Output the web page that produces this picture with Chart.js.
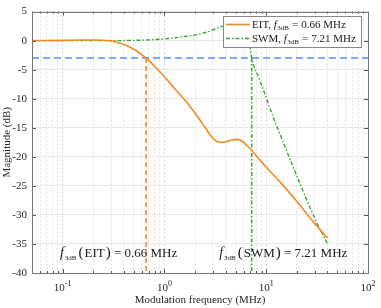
<!DOCTYPE html>
<html>
<head>
<meta charset="utf-8">
<script src="https://cdn.jsdelivr.net/npm/chart.js@4.4.1/dist/chart.umd.min.js"></script>
<style>
  html, body { margin: 0; padding: 0; background: #fff; }
</style>
</head>
<body>
<canvas id="myChart" width="381" height="308"></canvas>
<script>
// EIT response (frequency in MHz, magnitude in dB)
const eitFreq = [0.05, 0.1, 0.15, 0.2, 0.25, 0.28, 0.32, 0.36, 0.4, 0.45, 0.5, 0.55, 0.6, 0.66, 0.8, 1.0, 1.25, 1.62, 2.0, 2.5, 2.9, 3.3, 3.8, 4.4, 5.2, 5.9, 6.5, 7.2, 10, 13.8, 20, 30, 40];
const eitDb   = [0, 0.05, 0.1, 0.1, 0.08, 0.02, -0.15, -0.4, -0.65, -1.05, -1.5, -1.95, -2.45, -3.0, -4.4, -6.2, -8.2, -10.4, -12.5, -14.9, -16.5, -17.4, -17.5, -17.2, -17.0, -17.4, -18.1, -18.9, -21.8, -24.4, -27.7, -31.5, -34.0];

// SWM response
const swmFreq = [0.05, 0.1, 0.3, 0.5, 0.74, 1.0, 1.5, 2.3, 2.9, 3.6, 4.5, 5.2, 5.8, 6.3, 6.8, 7.21, 8.5, 10, 11.8, 13.3, 20, 30, 40];
const swmDb   = [0, 0, 0, 0.05, 0.15, 0.3, 0.65, 1.2, 1.75, 2.4, 2.9, 3.2, 3.2, 2.3, -0.2, -3.0, -6.5, -9.8, -13.3, -15.6, -23.3, -30.6, -35.0];

const cutLevel = -3;
const f3dbEit = 0.66;
const f3dbSwm = 7.21;

const yTicks = [5, 0, -5, -10, -15, -20, -25, -30, -35, -40];
const decades = [0.1, 1, 10, 100];
const decadeExp = ['-1', '0', '1', '2'];

const orange = '#f28a24';
const green = '#36a832';
const blue = '#5b8ff5';
const serif = '"Liberation Serif", "Times New Roman", serif';

function pairs(xs, ys) {
  return xs.map((x, i) => ({ x: x, y: ys[i] }));
}

// draw a run of text pieces with different fonts / vertical offsets
function richText(ctx, x, y, parts) {
  ctx.textBaseline = 'alphabetic';
  ctx.textAlign = 'left';
  parts.forEach(p => {
    ctx.font = p.font;
    ctx.fillText(p.t, x, y + (p.dy || 0));
    x += ctx.measureText(p.t).width + (p.gap || 0);
  });
  return x;
}

const matlabLook = {
  id: 'matlabLook',
  afterDraw(chart) {
    const ctx = chart.ctx;
    const a = chart.chartArea;
    const xs = chart.scales.x, ys = chart.scales.y;
    ctx.save();

    // inward ticks
    ctx.strokeStyle = '#555';
    ctx.lineWidth = 1;
    ctx.beginPath();
    xs.ticks.forEach(t => {
      const px = Math.round(xs.getPixelForValue(t.value)) + 0.5;
      const major = decades.some(d => Math.abs(d - t.value) < 1e-9);
      const len = major ? 4 : 2;
      ctx.moveTo(px, a.bottom); ctx.lineTo(px, a.bottom - len);
      ctx.moveTo(px, a.top); ctx.lineTo(px, a.top + len);
    });
    yTicks.forEach(v => {
      const py = Math.round(ys.getPixelForValue(v)) + 0.5;
      ctx.moveTo(a.left, py); ctx.lineTo(a.left + 4, py);
      ctx.moveTo(a.right, py); ctx.lineTo(a.right - 4, py);
    });
    ctx.stroke();

    // box
    ctx.strokeStyle = '#777';
    ctx.strokeRect(Math.round(a.left) + 0.5, Math.round(a.top) + 0.5,
      Math.round(a.right - a.left), Math.round(a.bottom - a.top));

    // x tick labels 10^n
    ctx.fillStyle = '#262626';
    decades.forEach((d, i) => {
      const px = xs.getPixelForValue(d);
      ctx.font = '11px ' + serif;
      const w1 = ctx.measureText('10').width;
      ctx.font = '8px ' + serif;
      const w2 = ctx.measureText(decadeExp[i]).width;
      let x0 = px - (w1 + w2) / 2;
      if (x0 + w1 + w2 > 381) x0 = 381 - w1 - w2;
      richText(ctx, x0, 291, [
        { t: '10', font: '11px ' + serif },
        { t: decadeExp[i], font: '8px ' + serif, dy: -5 }
      ]);
    });

    // annotations
    ctx.fillStyle = '#1a1a1a';
    const ay = ys.getPixelForValue(-37.5) - 1;
    const fIt = 'italic 14px ' + serif;
    const sub = '7px ' + serif;
    const body = '13px ' + serif;
    const par = '15px ' + serif;
    richText(ctx, xs.getPixelForValue(0.094), ay, [
      { t: 'f', font: fIt, gap: 1 },
      { t: '3dB', font: sub, dy: 3, gap: 2 },
      { t: '(', font: par, gap: 1 }, { t: 'EIT', font: body, gap: 1 }, { t: ')', font: par },
      { t: ' = 0.66 MHz', font: body }
    ]);
    richText(ctx, xs.getPixelForValue(3.45), ay, [
      { t: 'f', font: fIt, gap: 1 },
      { t: '3dB', font: sub, dy: 3, gap: 2 },
      { t: '(', font: par, gap: 1 }, { t: 'SWM', font: body, gap: 1 }, { t: ')', font: par },
      { t: ' = 7.21 MHz', font: body }
    ]);

    // legend box
    const lx = 223, ly = 16, lw = 138, lh = 31;
    ctx.fillStyle = '#fff';
    ctx.fillRect(lx, ly, lw, lh);
    ctx.strokeStyle = '#888';
    ctx.lineWidth = 1;
    ctx.strokeRect(lx + 0.5, ly + 0.5, lw, lh);
    const rows = [
      { name: 'EIT, ', val: '0.66 MHz', color: orange, dash: [], y: ly + 8.5 },
      { name: 'SWM, ', val: '7.21 MHz', color: green, dash: [4, 2, 1.5, 2], y: ly + 22.5 }
    ];
    rows.forEach(r => {
      ctx.strokeStyle = r.color;
      ctx.lineWidth = 1.6;
      ctx.setLineDash(r.dash);
      ctx.beginPath();
      ctx.moveTo(lx + 3, r.y); ctx.lineTo(lx + 27, r.y);
      ctx.stroke();
      ctx.setLineDash([]);
      ctx.fillStyle = '#1a1a1a';
      richText(ctx, lx + 29, r.y + 3.5, [
        { t: r.name, font: '11px ' + serif },
        { t: 'f', font: 'italic 11px ' + serif, gap: 0.5 },
        { t: '3dB', font: '7px ' + serif, dy: 2, gap: 3 },
        { t: '=', font: '11px ' + serif, gap: 3 },
        { t: r.val, font: '11px ' + serif }
      ]);
    });
    ctx.restore();
  }
};

const data = {
  datasets: [
    {
      label: 'EIT',
      data: pairs(eitFreq, eitDb),
      borderColor: orange,
      borderWidth: 1.6,
      pointRadius: 0,
      cubicInterpolationMode: 'monotone'
    },
    {
      label: 'SWM',
      data: pairs(swmFreq, swmDb),
      borderColor: green,
      borderWidth: 1.4,
      borderDash: [4, 2, 1.5, 2],
      pointRadius: 0,
      cubicInterpolationMode: 'monotone'
    },
    {
      label: '-3 dB',
      data: [{ x: 0.05, y: cutLevel }, { x: 100, y: cutLevel }],
      borderColor: blue,
      borderWidth: 1.6,
      borderDash: [7, 4],
      pointRadius: 0
    },
    {
      label: 'EIT cut',
      data: [{ x: f3dbEit, y: cutLevel }, { x: f3dbEit, y: -40 }],
      borderColor: orange,
      borderWidth: 1.6,
      borderDash: [5, 3],
      pointRadius: 0
    },
    {
      label: 'SWM cut',
      data: [{ x: f3dbSwm, y: cutLevel }, { x: f3dbSwm, y: -40 }],
      borderColor: green,
      borderWidth: 1.4,
      borderDash: [4, 2, 1.5, 2],
      pointRadius: 0
    }
  ]
};

const config = {
  type: 'line',
  data: data,
  options: {
    responsive: false,
    animation: false,
    devicePixelRatio: 1,
    layout: { padding: { top: 10, right: 13, left: 0, bottom: 0 } },
    plugins: { legend: { display: false }, tooltip: { enabled: false } },
    scales: {
      x: {
        type: 'logarithmic',
        min: 0.05,
        max: 100,
        afterBuildTicks(scale) {
          const t = [];
          [0.01, 0.1, 1, 10].forEach(d => {
            for (let k = 1; k <= 9; k++) {
              const v = +(k * d).toPrecision(3);
              if (v >= 0.05 && v <= 100) t.push({ value: v });
            }
          });
          t.push({ value: 100 });
          scale.ticks = t;
        },
        afterFit(scale) { scale.height = 35; },
        ticks: { display: false },
        grid: {
          drawTicks: false,
          color: ctx => decades.some(d => Math.abs(d - ctx.tick.value) < 1e-9) ? '#d6d6d6' : '#e2e2e2',
          lineWidth: 1
        },
        border: { display: false, dash: [2, 2] },
        title: {
          display: true,
          text: 'Modulation frequency (MHz)',
          color: '#262626',
          font: { family: serif, size: 11 },
          padding: { top: 0, bottom: 1 }
        }
      },
      y: {
        min: -40,
        max: 5,
        afterBuildTicks(scale) { scale.ticks = yTicks.map(v => ({ value: v })); },
        afterFit(scale) { scale.width = 32; },
        ticks: {
          color: '#262626',
          font: { family: serif, size: 11 },
          padding: 5
        },
        grid: { drawTicks: false, color: '#e8e8e8' },
        border: { display: false },
        title: {
          display: true,
          text: 'Magnitude (dB)',
          color: '#262626',
          font: { family: serif, size: 11 },
          padding: { top: 1, bottom: 0 }
        }
      }
    }
  },
  plugins: [matlabLook]
};

const myChart = new Chart(document.getElementById('myChart'), config);
</script>
</body>
</html>
